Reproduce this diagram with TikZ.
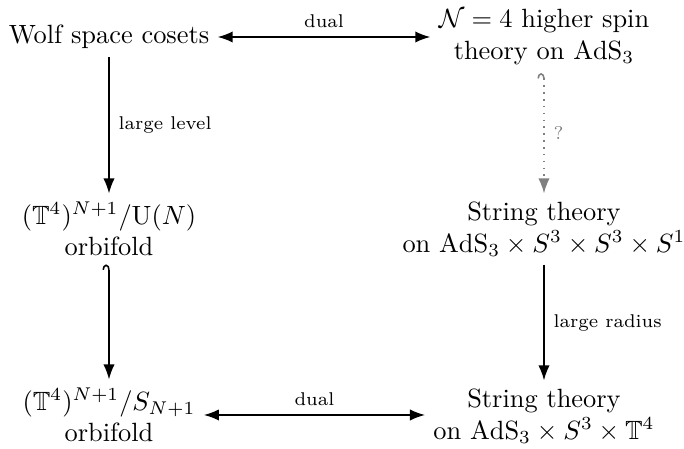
\documentclass[tikz,border=0pt]{standalone}
\usepackage{amsmath,amssymb}
\usetikzlibrary{positioning,arrows.meta}

\begin{document}
\begin{tikzpicture}[
    x=0.379pt, y=-0.379pt,
    theory/.style={align=center, inner sep=3pt},
    lbl/.style={font=\scriptsize},
    arrow/.style={-Latex, semithick},
    dual/.style={Latex-Latex, semithick},
    hookarrow/.style={{Hooks[left, width=5pt, length=2pt]}-Latex, semithick},
    guess/.style={{Hooks[left, width=5pt, length=2pt]}-Latex, semithick, dotted, gray}
]
\useasboundingbox (0,0) rectangle (684,449);

% Top row
\node[theory] (wolf) at (109,37) {Wolf space cosets};
\node[theory] (hs) at (544,37) {$\mathcal{N}=4$ higher spin\\theory on $\mathrm{AdS}_3$};

% Middle row
\node[theory] (orbU) at (109,229) {$(\mathbb{T}^4)^{N+1}/\mathrm{U}(N)$\\orbifold};
\node[theory] (strA) at (544,229) {String theory\\on $\mathrm{AdS}_3\times S^3\times S^3\times S^1$};

% Bottom row
\node[theory] (orbS) at (109,415) {$(\mathbb{T}^4)^{N+1}/S_{N+1}$\\orbifold};
\node[theory] (strB) at (544,416) {String theory\\on $\mathrm{AdS}_3\times S^3\times\mathbb{T}^4$};

% Dualities
\draw[dual] (wolf.east) -- node[lbl, above] {dual} (wolf.east -| hs.west);
\draw[dual] (orbS.east) -- node[lbl, above] {dual} (orbS.east -| strB.west);

% Limits
\draw[arrow] (wolf) -- node[lbl, right] {large level} (orbU);
\draw[arrow] (strA) -- node[lbl, right] {large radius} (strB);

% Embeddings
\draw[hookarrow] (orbU) -- (orbS);
\draw[guess] (hs) -- node[lbl, right] {?} (strA);

\end{tikzpicture}
\end{document}
